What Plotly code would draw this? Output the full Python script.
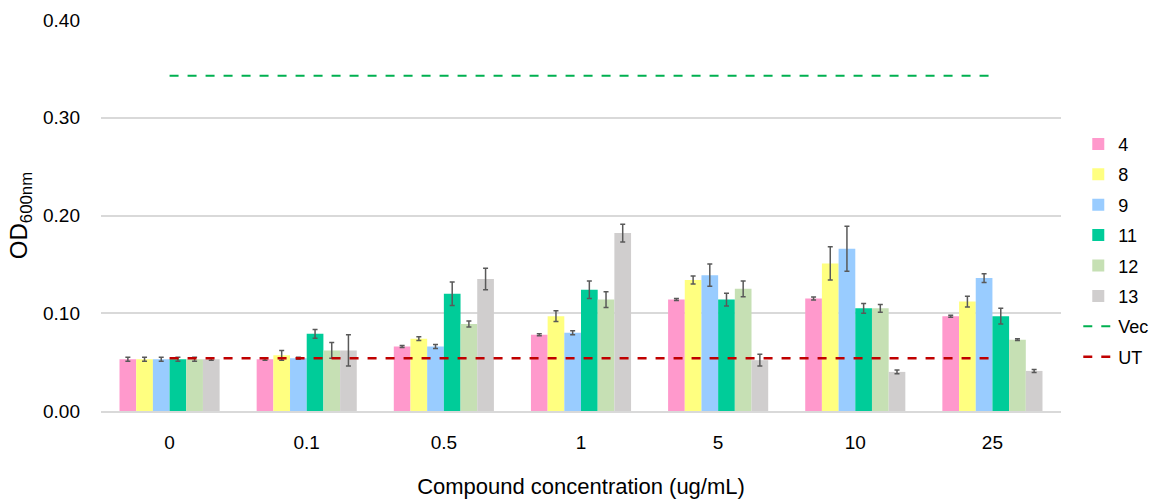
import plotly.graph_objects as go

categories = ["0", "0.1", "0.5", "1", "5", "10", "25"]
series_names = ["4", "8", "9", "11", "12", "13"]
colors = ["#FF99CC", "#FFFF80", "#99CCFF", "#00CC99", "#C6E0B4", "#D0CECE"]

v4 = [0.053, 0.053, 0.066, 0.078, 0.114, 0.115, 0.097]
v8 = [0.053, 0.057, 0.074, 0.097, 0.134, 0.151, 0.112]
v9 = [0.053, 0.054, 0.066, 0.080, 0.139, 0.166, 0.136]
v11 = [0.053, 0.079, 0.120, 0.124, 0.114, 0.105, 0.097]
v12 = [0.053, 0.062, 0.089, 0.114, 0.125, 0.105, 0.073]
v13 = [0.053, 0.062, 0.135, 0.182, 0.052, 0.040, 0.041]

e4 = [0.002, 0.001, 0.001, 0.001, 0.001, 0.0015, 0.001]
e8 = [0.002, 0.005, 0.002, 0.0055, 0.004, 0.017, 0.0055]
e9 = [0.002, 0.001, 0.002, 0.002, 0.0115, 0.023, 0.0045]
e11 = [0.002, 0.0045, 0.012, 0.009, 0.0065, 0.005, 0.008]
e12 = [0.002, 0.008, 0.003, 0.008, 0.008, 0.004, 0.001]
e13 = [0.001, 0.016, 0.011, 0.009, 0.006, 0.002, 0.0015]

vec_value = 0.343
ut_value = 0.054

values = [v4, v8, v9, v11, v12, v13]
errors = [e4, e8, e9, e11, e12, e13]

font_family = "Liberation Sans, Arial, sans-serif"

fig = go.Figure()
for name, vals, errs, col in zip(series_names, values, errors, colors):
    fig.add_trace(go.Bar(
        x=categories, y=vals, name=name, legendgroup=name,
        marker=dict(color=col, line=dict(width=0)),
        error_y=dict(type="data", array=errs, visible=True,
                     color="#595959", thickness=1.5, width=2.5),
    ))

fig.add_trace(go.Scatter(
    x=categories, y=[vec_value] * len(categories), name="Vec", legendgroup="Vec",
    mode="lines", line=dict(color="#00B050", dash="dash", width=2),
))
fig.add_trace(go.Scatter(
    x=categories, y=[ut_value] * len(categories), name="UT", legendgroup="UT",
    mode="lines", line=dict(color="#C00000", dash="dash", width=2.5),
))

fig.update_layout(
    width=1152, height=499,
    margin=dict(l=101, r=91, t=20, b=88, autoexpand=False),
    paper_bgcolor="white", plot_bgcolor="white",
    barmode="group", bargap=0.27, bargroupgap=0,
    font=dict(family=font_family, size=18, color="#000000"),
    legend=dict(x=1.018, xanchor="left", y=0.41, yanchor="middle",
                font=dict(size=18), traceorder="grouped", tracegroupgap=4,
                itemwidth=30, bgcolor="rgba(0,0,0,0)"),
    xaxis=dict(
        type="category", automargin=False,
        title=dict(text="Compound concentration (ug/mL)", font=dict(size=22), standoff=27),
        showgrid=False, showline=True, linecolor="#D9D9D9", linewidth=1.5,
        ticks="", tickfont=dict(size=19), ticklabelstandoff=13,
    ),
    yaxis=dict(
        range=[0, 0.4], dtick=0.1, tickformat=".2f", automargin=False,
        title=dict(text="OD<sub>600nm</sub>", font=dict(size=24), standoff=8),
        showgrid=True, gridcolor="#D9D9D9", gridwidth=1.5,
        zeroline=False, ticks="", tickfont=dict(size=19), ticklabelstandoff=20,
    ),
)

fig.write_html("out.html")
